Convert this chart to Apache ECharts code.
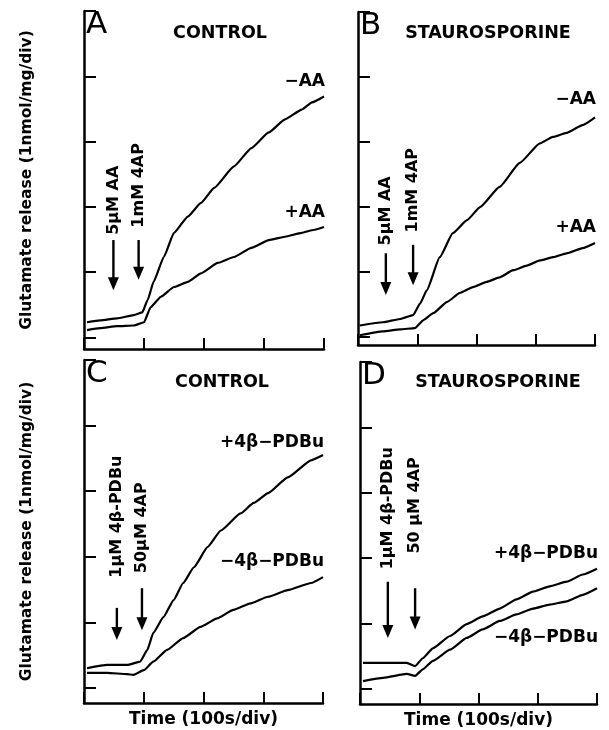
<!DOCTYPE html>
<html>
<head>
<meta charset="utf-8">
<script src="https://cdn.jsdelivr.net/npm/echarts@6/dist/echarts.min.js"></script>
<style>
  html, body { margin: 0; padding: 0; background: #fff; }
  #main { width: 609px; height: 730px; }
</style>
</head>
<body>
<div id="main"></div>
<script>
// time in 100 s divisions, release in 1 nmol/mg divisions
var aMinusX = [0.05, 0.27, 0.55, 0.83, 0.97, 1.06, 1.16, 1.33, 1.5, 1.73, 1.95, 2.17, 2.5, 2.79, 3.08, 3.35, 3.63, 3.8, 4.0];
var aMinusY = [0.23, 0.26, 0.29, 0.34, 0.38, 0.57, 0.85, 1.23, 1.6, 1.85, 2.06, 2.29, 2.62, 2.9, 3.14, 3.34, 3.49, 3.6, 3.69];
var aPlusX = [0.05, 0.27, 0.55, 0.83, 1.0, 1.11, 1.28, 1.5, 1.73, 1.95, 2.23, 2.5, 2.79, 3.08, 3.35, 3.63, 3.8, 4.0];
var aPlusY = [0.11, 0.14, 0.17, 0.18, 0.23, 0.46, 0.62, 0.77, 0.85, 0.98, 1.14, 1.23, 1.37, 1.49, 1.54, 1.6, 1.64, 1.69];

var bMinusX = [0.03, 0.42, 0.71, 0.93, 1.05, 1.16, 1.38, 1.6, 1.84, 2.06, 2.39, 2.73, 3.07, 3.29, 3.52, 3.79, 4.0];
var bMinusY = [0.18, 0.23, 0.28, 0.34, 0.52, 0.72, 1.23, 1.6, 1.8, 2.0, 2.31, 2.68, 2.98, 3.08, 3.14, 3.26, 3.38];
var bPlusX = [0.03, 0.42, 0.71, 0.96, 1.1, 1.27, 1.5, 1.72, 1.94, 2.17, 2.39, 2.62, 2.85, 3.07, 3.29, 3.52, 3.79, 4.0];
var bPlusY = [0.03, 0.09, 0.12, 0.14, 0.26, 0.37, 0.54, 0.68, 0.77, 0.85, 0.92, 1.03, 1.1, 1.18, 1.23, 1.29, 1.37, 1.45];

var cPlusX = [0.05, 0.39, 0.72, 0.94, 1.06, 1.16, 1.33, 1.5, 1.66, 1.84, 2.07, 2.29, 2.62, 2.84, 3.08, 3.41, 3.8, 4.0];
var cPlusY = [0.3, 0.35, 0.35, 0.4, 0.58, 0.84, 1.08, 1.34, 1.6, 1.84, 2.15, 2.4, 2.66, 2.82, 2.97, 3.21, 3.47, 3.55];
var cMinusX = [0.05, 0.39, 0.72, 0.83, 1.0, 1.16, 1.39, 1.66, 1.95, 2.23, 2.5, 2.79, 3.08, 3.41, 3.8, 4.0];
var cMinusY = [0.23, 0.23, 0.21, 0.2, 0.27, 0.4, 0.58, 0.76, 0.93, 1.06, 1.19, 1.29, 1.39, 1.49, 1.6, 1.69];

var dPlusX = [0.05, 0.39, 0.79, 0.93, 1.06, 1.23, 1.52, 1.8, 2.07, 2.36, 2.64, 2.92, 3.2, 3.49, 3.76, 4.0];
var dPlusY = [0.4, 0.4, 0.4, 0.35, 0.47, 0.62, 0.81, 0.99, 1.11, 1.23, 1.37, 1.49, 1.57, 1.64, 1.75, 1.84];
var dMinusX = [0.05, 0.39, 0.79, 0.93, 1.06, 1.23, 1.52, 1.8, 2.07, 2.36, 2.64, 2.92, 3.2, 3.49, 3.76, 4.0];
var dMinusY = [0.12, 0.17, 0.23, 0.2, 0.3, 0.43, 0.6, 0.78, 0.91, 1.04, 1.14, 1.23, 1.29, 1.34, 1.44, 1.54];

var panelLetters = ['A', 'B', 'C', 'D'];
var panelTitles = ['CONTROL', 'STAUROSPORINE', 'CONTROL', 'STAUROSPORINE'];
var yTicks = [0, 1, 2, 3, 4, 5];

// arrows: [x, tail y, tip y] and their vertical labels
var arrowsA = [[0.49, 1.49, 0.72], [0.91, 1.49, 0.88]];
var arrowsB = [[0.47, 1.29, 0.65], [0.93, 1.42, 0.8]];
var arrowsC = [[0.55, 1.22, 0.73], [0.97, 1.52, 0.88]];
var arrowsD = [[0.47, 1.64, 0.78], [0.93, 1.54, 0.91]];
var arrowTextA = ['5\u03bcM AA', '1mM 4AP'];
var arrowTextC = ['1\u03bcM 4\u03b2-PDBu', '50\u03bcM 4AP'];
var arrowTextD = ['1\u03bcM 4\u03b2-PDBu', '50 \u03bcM 4AP'];
// label bottom y (data units) for each arrow label
var arrowTextBaseA = [1.57, 1.68];
var arrowTextBaseB = [1.41, 1.61];
var arrowTextBaseC = [1.68, 1.75];
var arrowTextBaseD = [1.83, 2.07];

// curve labels: [text, y]
var curveLabA = [['\u2212AA', 3.92], ['+AA', 1.91]];
var curveLabB = [['\u2212AA', 3.65], ['+AA', 1.68]];
var curveLabC = [['+4\u03b2\u2212PDBu', 3.74], ['\u22124\u03b2\u2212PDBu', 1.92]];
var curveLabD = [['+4\u03b2\u2212PDBu', 2.07], ['\u22124\u03b2\u2212PDBu', 0.78]];

function pairs(xs, ys) {
    var out = [];
    for (var i = 0; i < xs.length; i++) {
        out.push([xs[i], ys[i]]);
    }
    return out;
}

var font = 'DejaVu Sans';
var grids = [
    {left: 84, top: 11, width: 240, height: 338},
    {left: 358, top: 12, width: 237, height: 333},
    {left: 84, top: 360, width: 239, height: 343},
    {left: 360, top: 362, width: 237, height: 342}
];
var yMins = [-0.18, -0.12, -0.23, -0.23];

var xAxes = [], yAxes = [];
for (var g = 0; g < 4; g++) {
    xAxes.push({
        type: 'value', gridIndex: g, min: 0, max: 4, interval: 1,
        axisLine: {onZero: false, lineStyle: {color: '#000', width: 2.5}},
        axisTick: {inside: true, length: 11, lineStyle: {color: '#000', width: 2}},
        axisLabel: {show: false},
        splitLine: {show: false},
        name: g >= 2 ? 'Time (100s/div)' : '',
        nameLocation: 'middle', nameGap: 8,
        nameTextStyle: {fontFamily: font, fontSize: 17, color: '#000', fontWeight: 'bold', verticalAlign: 'top'}
    });
    yAxes.push({
        type: 'value', gridIndex: g, min: yMins[g], max: 5,
        axisLine: {onZero: false, lineStyle: {color: '#000', width: 2.5}},
        axisTick: {inside: true, length: 12, customValues: yTicks, lineStyle: {color: '#000', width: 2}},
        axisLabel: {show: false},
        splitLine: {show: false},
        name: g % 2 === 0 ? 'Glutamate release (1nmol/mg/div)' : '',
        nameLocation: 'middle', nameGap: 49, nameRotate: 90,
        nameTextStyle: {fontFamily: font, fontSize: 15.5, color: '#000', fontWeight: 'bold'}
    });
}

var curves = [
    [aMinusX, aMinusY, 0], [aPlusX, aPlusY, 0],
    [bMinusX, bMinusY, 1], [bPlusX, bPlusY, 1],
    [cPlusX, cPlusY, 2], [cMinusX, cMinusY, 2],
    [dPlusX, dPlusY, 3], [dMinusX, dMinusY, 3]
];
var series = curves.map(function (c) {
    return {
        type: 'line', xAxisIndex: c[2], yAxisIndex: c[2],
        data: pairs(c[0], c[1]),
        showSymbol: false, silent: true, animation: false,
        smooth: 0.15, smoothMonotone: 'x',
        lineStyle: {color: '#000', width: 2.2}
    };
});

var titleCenters = [[215, 28], [483, 28], [217, 377], [493, 377]];
var titles = panelTitles.map(function (t, i) {
    return {
        text: t, left: titleCenters[i][0], top: titleCenters[i][1], textAlign: 'center',
        textVerticalAlign: 'middle',
        textStyle: {fontFamily: font, fontSize: 17.5, fontWeight: 'bold', color: '#000'}
    };
});

var myChart = echarts.init(document.getElementById('main'));
myChart.setOption({
    backgroundColor: '#fff',
    animation: false,
    title: titles,
    grid: grids,
    xAxis: xAxes,
    yAxis: yAxes,
    series: series
});

// annotations placed through the axes
var elements = [];
function px(g, x, y) {
    return myChart.convertToPixel({gridIndex: g}, [x, y]);
}
function addArrow(g, a) {
    var tail = px(g, a[0], a[1]);
    var tip = px(g, a[0], a[2]);
    var head = 13;
    elements.push({
        type: 'line', silent: true,
        shape: {x1: tail[0], y1: tail[1], x2: tip[0], y2: tip[1] - head + 2},
        style: {stroke: '#000', lineWidth: 2.4}
    });
    elements.push({
        type: 'polygon', silent: true,
        shape: {points: [[tip[0] - 5.5, tip[1] - head], [tip[0] + 5.5, tip[1] - head], [tip[0], tip[1]]]},
        style: {fill: '#000'}
    });
}
function addVText(g, x, y, text) {
    var p = px(g, x, y);
    elements.push({
        type: 'text', silent: true, x: p[0], y: p[1], rotation: Math.PI / 2,
        style: {text: text, fontFamily: font, fontSize: 16, fontWeight: 'bold', fill: '#000',
            align: 'left', verticalAlign: 'middle'}
    });
}
function addCurveLabel(g, lab) {
    var p = px(g, 4, lab[1]);
    elements.push({
        type: 'text', silent: true, x: p[0] + 1, y: p[1],
        style: {text: lab[0], fontFamily: font, fontSize: 17, fontWeight: 'bold', fill: '#000',
            align: 'right', verticalAlign: 'middle'}
    });
}
var arrowSets = [arrowsA, arrowsB, arrowsC, arrowsD];
var arrowTexts = [arrowTextA, arrowTextA, arrowTextC, arrowTextD];
var arrowBases = [arrowTextBaseA, arrowTextBaseB, arrowTextBaseC, arrowTextBaseD];
var curveLabs = [curveLabA, curveLabB, curveLabC, curveLabD];
for (g = 0; g < 4; g++) {
    for (var k = 0; k < 2; k++) {
        addArrow(g, arrowSets[g][k]);
        addVText(g, arrowSets[g][k][0], arrowBases[g][k], arrowTexts[g][k]);
        addCurveLabel(g, curveLabs[g][k]);
    }
    // panel letter next to the axis top
    var lp = px(g, 0, 5);
    elements.push({
        type: 'text', silent: true, x: lp[0] + 2, y: lp[1] - 2,
        style: {text: panelLetters[g], fontFamily: font, fontSize: 31, fontWeight: 'normal', fill: '#000',
            align: 'left', verticalAlign: 'top'}
    });
}
myChart.setOption({graphic: {elements: elements}});
</script>
</body>
</html>
